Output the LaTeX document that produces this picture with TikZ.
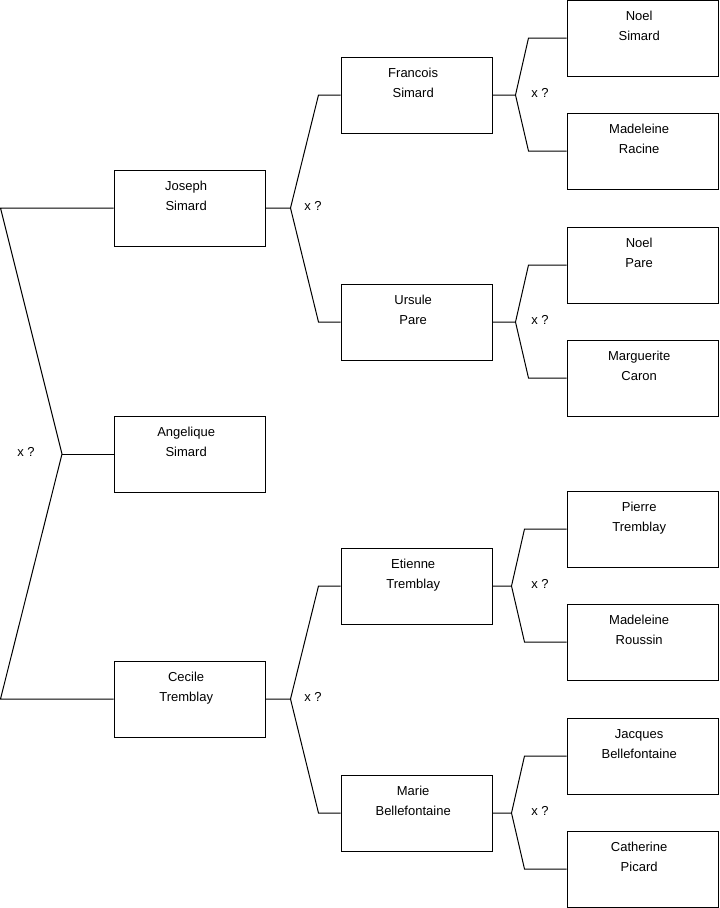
\documentclass[tikz,border=0pt]{standalone}
\usepackage{fontspec}
\setmainfont{Liberation Sans}
\newcommand\who[2]{#1\rule{5pt}{0pt}\\#2\rule{5pt}{0pt}\\[3pt]~}
\begin{document}
\begin{tikzpicture}[x=0.75pt,y=-0.75pt,font=\fontsize{9.75}{15}\selectfont,
	p/.style={draw,line width=0.75pt,minimum width=113.25pt,minimum height=57pt,align=center,inner sep=1pt},
	l/.style={line width=0.75pt}]
	\useasboundingbox (0,0) rectangle (719,908);
	% child
	\node[p] (b) at (189.5,454) {\who{Angelique}{Simard}};
	% parents
	\node[p] (a) at (189.5,208) {\who{Joseph}{Simard}};
	\node[p] (c) at (189.5,699) {\who{Cecile}{Tremblay}};
	% grandparents
	\node[p] (aa) at (416.5,95) {\who{Francois}{Simard}};
	\node[p] (ab) at (416.5,322) {\who{Ursule}{Pare}};
	\node[p] (ca) at (416.5,586) {\who{Etienne}{Tremblay}};
	\node[p] (cb) at (416.5,813) {\who{Marie}{Bellefontaine}};
	% great-grandparents
	\node[p] (aaa) at (642.5,38) {\who{Noel}{Simard}};
	\node[p] (aab) at (642.5,151) {\who{Madeleine}{Racine}};
	\node[p] (aba) at (642.5,265) {\who{Noel}{Pare}};
	\node[p] (abb) at (642.5,378) {\who{Marguerite}{Caron}};
	\node[p] (caa) at (642.5,529) {\who{Pierre}{Tremblay}};
	\node[p] (cab) at (642.5,642) {\who{Madeleine}{Roussin}};
	\node[p] (cba) at (642.5,756) {\who{Jacques}{Bellefontaine}};
	\node[p] (cbb) at (642.5,869) {\who{Catherine}{Picard}};
	% marriage of the parents
	\coordinate (v) at (62,454);
	\coordinate (vt) at (0.5,208);
	\coordinate (vb) at (0.5,699);
	\draw[l] (a.west) -- (vt) -- (v) -- (vb) -- (c.west);
	\draw[l] (v) -- (b.west);
	\node (x) at (26,452) {x ?};
	% marriages of the other couples
	\foreach \n/\f/\m/\d/\e/\t in {a/aa/ab/25/53/304,c/ca/cb/25/53/304,aa/aaa/aab/23/36/531,ab/aba/abb/23/36/531,ca/caa/cab/19/32/531,cb/cba/cbb/19/32/531} {
		\coordinate (v\n) at ([xshift=\d*0.75pt]\n.east);
		\draw[l] (\n.east) -- (v\n) -- ([xshift=\e*0.75pt]\n.east |- \f.west) -- (\f.west);
		\draw[l] (v\n) -- ([xshift=\e*0.75pt]\n.east |- \m.west) -- (\m.west);
		\node[anchor=west,inner sep=0pt] (x\n) at ([yshift=1.5pt]\t,0 |- v\n) {x ?};
	}
\end{tikzpicture}
\end{document}
